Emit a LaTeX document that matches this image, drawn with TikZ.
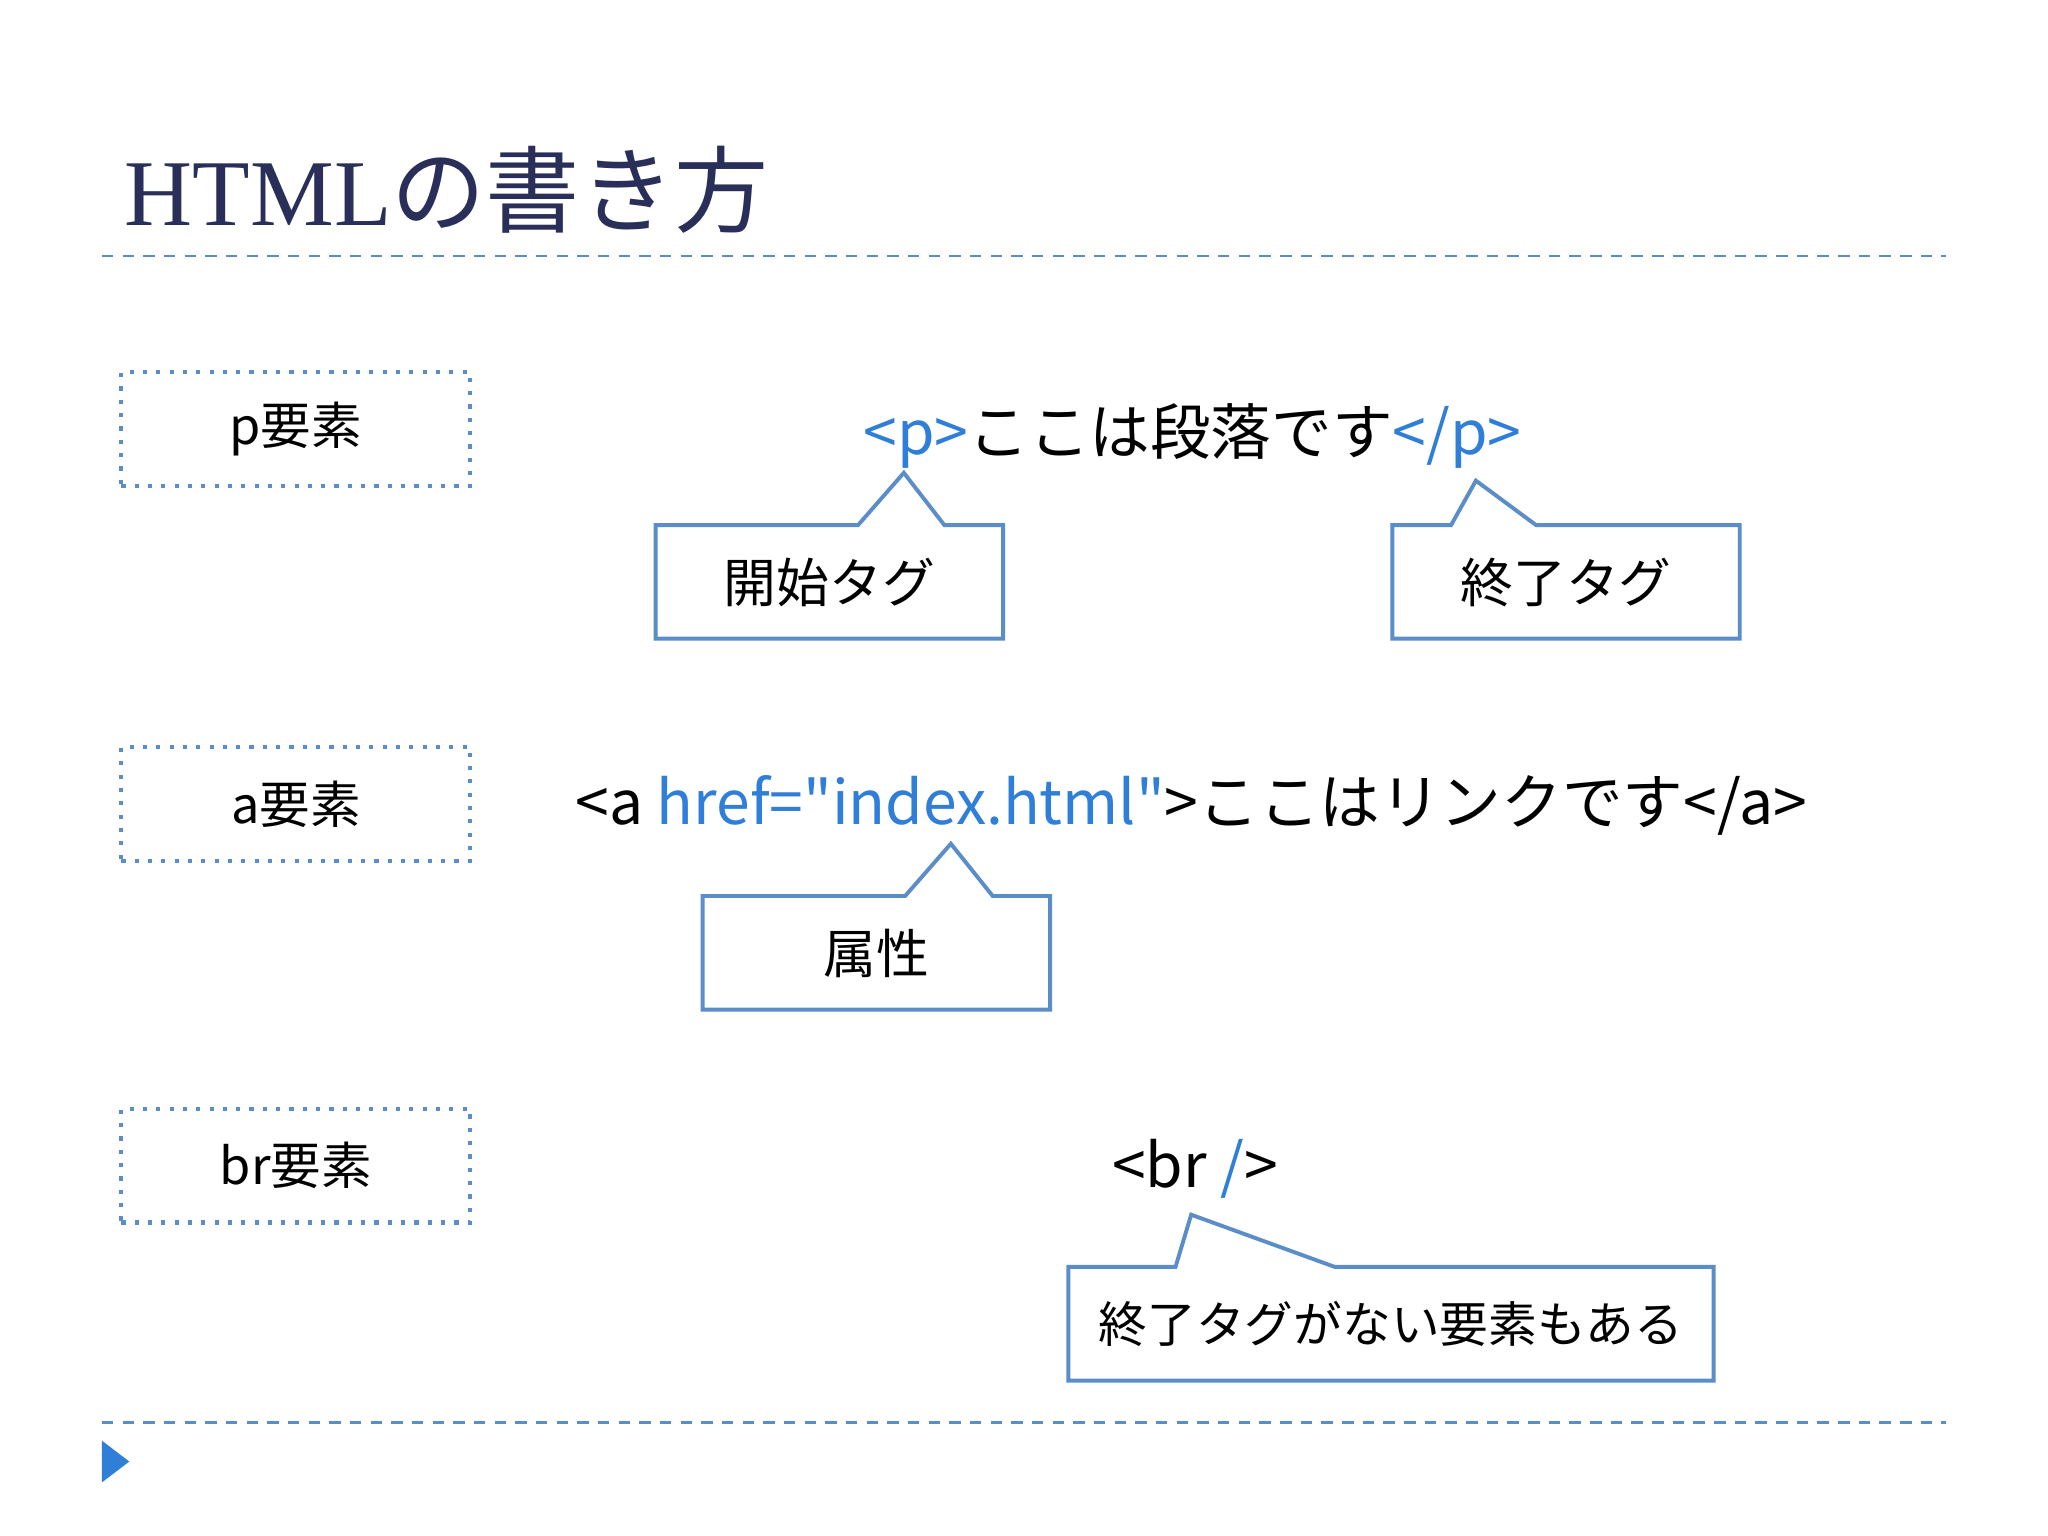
\documentclass[tikz,border=0pt]{standalone}
\usepackage{fontspec}
\setmainfont{Noto Sans CJK JP}[Ligatures=TeXOff]
\newfontfamily\titlelat{Liberation Serif}
\definecolor{lineblue}{HTML}{5B8EC9}
\definecolor{tagblue}{HTML}{2F7ED8}
\definecolor{navy}{HTML}{2A2F5A}
\tikzset{
  callout/.style={draw=lineblue, line width=0.85pt, fill=white},
  labelbox/.style={draw=lineblue, line width=0.9pt, dotted, minimum width=2.67cm, minimum height=0.87cm, font=\fontsize{11}{12}\selectfont},
  codeline/.style={font=\fontsize{13.2}{15}\selectfont, inner sep=0pt},
  calltext/.style={font=\fontsize{11.5}{13}\selectfont, inner sep=0pt},
  rule/.style={draw=lineblue, line width=0.55pt, dash pattern=on 2.5pt off 2pt}
}
\begin{document}
\begin{tikzpicture}[x=0.01cm,y=-0.01cm]
\useasboundingbox[fill=white] (0,0) rectangle (1568,1176);
\node[anchor=base west, inner sep=0pt, text=navy, font=\fontsize{20.5}{24}\selectfont] (title) at (95,173) {{\titlelat HTML}の書き方};
\coordinate (r1a) at (78,196); \coordinate (r1b) at (1490,196);
\draw[rule] (r1a) -- (r1b);
\coordinate (r2a) at (78,1089); \coordinate (r2b) at (1490,1089);
\draw[rule] (r2a) -- (r2b);
\coordinate (t1) at (78,1103); \coordinate (t2) at (78,1135); \coordinate (t3) at (99,1119);
\fill[tagblue] (t1) -- (t3) -- (t2) -- cycle;

\node[labelbox] (lp) at (226.5,328.5) {p要素};
\node[labelbox] (la) at (226.5,615.5) {a要素};
\node[labelbox] (lbr) at (226.5,892.5) {br要素};

\node[codeline] (c1) at (913,334) {\textcolor{tagblue}{<p>}ここは段落です\textcolor{tagblue}{</p>}};
\node[codeline] (c2) at (912,617) {<a \textcolor{tagblue}{href="index.html"}>ここはリンクです</a>};
\node[codeline] (c3) at (915,895) {<br \textcolor{tagblue}{/}>};

% callout 1
\draw[callout] (502,402) -- (657,402) -- (692,362) -- (723,402) -- (768,402) -- (768,489) -- (502,489) -- cycle;
\node[calltext] (k1) at (635,446) {開始タグ};
% callout 2
\draw[callout] (1066,402) -- (1111,402) -- (1130,368) -- (1176,402) -- (1332,402) -- (1332,489) -- (1066,489) -- cycle;
\node[calltext] (k2) at (1199,446) {終了タグ};
% callout 3
\draw[callout] (538,686) -- (693,686) -- (728,646) -- (760,686) -- (804,686) -- (804,773) -- (538,773) -- cycle;
\node[calltext] (k3) at (671,730) {属性};
% callout 4
\draw[callout] (818,970) -- (900,970) -- (912,930) -- (1022,970) -- (1312,970) -- (1312,1057) -- (818,1057) -- cycle;
\node[calltext, font=\fontsize{10.6}{12}\selectfont] (k4) at (1065,1014) {終了タグがない要素もある};
\end{tikzpicture}
\end{document}
